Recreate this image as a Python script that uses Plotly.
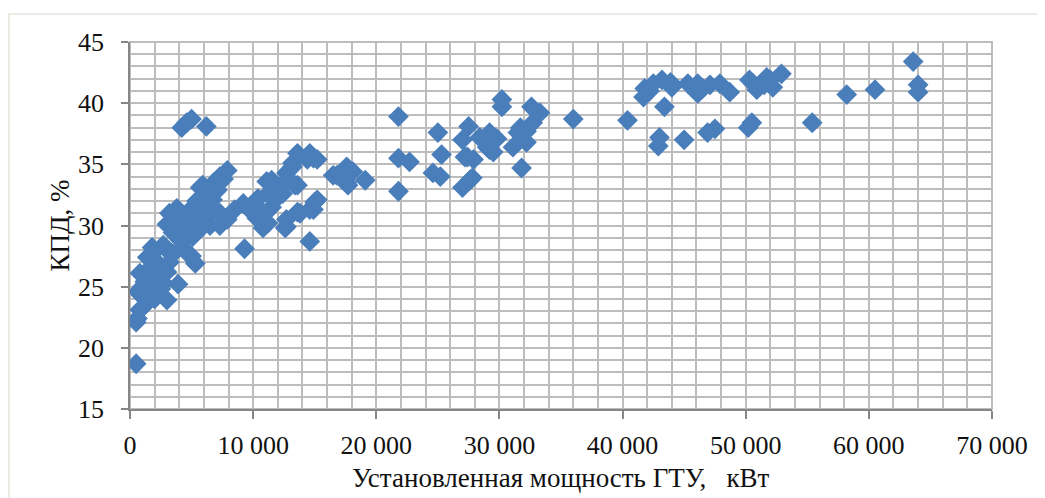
import plotly.graph_objects as go

# Installed capacity of gas turbine units, kW
power_kw = [
    500, 500, 600, 800, 1000, 1400, 650, 900, 1200, 1000, 800, 1100, 1500, 1600, 1900, 2300, 2000, 2500, 3000, 2700,
    3900, 1400, 1800, 2000, 2000, 2200, 2700, 3000, 2400, 1700, 3200, 3500, 2700, 3000, 4100, 4600, 4300, 5300, 5000,
    3200, 3500, 4100, 5100, 5900, 3000, 3200, 3800, 3500, 4600, 5100, 4200, 4000, 4800, 5500, 5700, 5700, 6300, 6700,
    6300, 5700, 5900, 6700, 7100, 7300, 7900, 7300, 7300, 7900, 6500, 6000, 5000, 4500, 6200, 6800, 7600, 5400, 4800,
    4200, 4600, 5000, 6200,
    9300, 8500, 9200, 10300, 10400, 10800, 10300, 10800, 11200, 11100, 11500, 11200, 11800, 12000, 12400, 12700, 12700,
    12600, 13600, 13800, 14600, 14900, 15000, 15200, 14600, 12700, 12700, 13200, 13200, 13400, 13600, 13600, 14600,
    14900, 15200, 14400, 9800, 10000, 11000, 11500,
    16500, 16800, 17300, 17600, 17600, 17700, 17600, 18100, 19100,
    21800, 21800, 22700, 21800, 25000, 25300, 24600, 25200, 27500, 27000, 27400, 27200, 27900, 28400, 29200, 29800,
    29000, 29500, 29200, 27800, 27000, 27600, 30200, 30200, 31700, 31100, 32200, 31800, 32600, 33300, 32700, 32200,
    31500, 36000, 40400,
    41800, 41700, 42200, 42500, 43200, 43900, 43400, 45300, 46100, 46100, 47100, 47900, 48700, 50300, 50900, 51700,
    52200, 52900, 51500, 43000, 42900, 45000, 46900, 47500, 50500, 50200, 55400, 58200, 60500, 63600, 64000, 64000,
    44000, 46500, 50600, 52000,
]

# Efficiency, %
efficiency = [
    18.7, 22.1, 22.4, 23.1, 23.3, 23.7, 24.6, 24.3, 25.4, 25.0, 26.1, 26.0, 25.6, 24.1, 25.0, 24.5, 24.0, 24.8, 23.9, 25.3,
    25.2, 27.4, 28.2, 27.9, 27.2, 26.8, 26.5, 26.2, 26.0, 26.5, 27.0, 27.7, 28.4, 28.0, 28.8, 27.8, 28.2, 26.9, 27.5,
    29.9, 29.4, 29.6, 29.1, 29.9, 30.1, 31.0, 31.4, 30.5, 30.5, 31.5, 30.8, 30.0, 29.5, 30.3, 29.9, 31.8, 30.7, 31.3,
    32.3, 33.1, 33.3, 32.1, 32.9, 34.0, 34.5, 31.0, 30.0, 30.5, 30.0, 31.0, 30.2, 29.0, 31.8, 33.5, 33.8, 32.0, 31.0,
    38.0, 38.4, 38.7, 38.1,
    28.1, 31.3, 31.8, 32.1, 32.2, 31.0, 30.6, 29.8, 30.2, 33.6, 33.7, 32.6, 32.1, 33.1, 32.6, 29.9, 30.5,
    29.8, 31.1, 31.0, 31.3, 31.3, 31.9, 32.1, 28.7, 33.7, 34.3, 34.8, 35.1, 33.3, 33.3, 35.9, 35.9,
    35.5, 35.4, 35.4, 31.5, 31.0, 31.0, 31.5,
    34.1, 34.1, 34.0, 34.8, 34.5, 33.3, 33.5, 34.4, 33.7,
    38.9, 35.5, 35.2, 32.8, 37.6, 35.8, 34.3, 34.0, 38.1, 37.0, 35.6, 35.6, 35.4, 37.2, 37.6, 37.1,
    36.4, 36.0, 36.2, 33.9, 33.1, 33.7, 40.3, 39.7, 38.0, 36.4, 36.8, 34.7, 39.7, 39.2, 38.4, 37.7,
    37.6, 38.7, 38.6,
    41.2, 40.5, 41.0, 41.6, 41.9, 41.7, 39.7, 41.6, 41.6, 40.8, 41.5, 41.6, 40.9, 41.9, 41.1, 42.1,
    41.3, 42.4, 41.5, 37.2, 36.5, 37.0, 37.6, 37.9, 38.4, 38.0, 38.4, 40.7, 41.1, 43.4, 41.5, 40.9,
    41.3, 41.2, 41.6, 41.9,
]

x_tick_vals = [0, 10000, 20000, 30000, 40000, 50000, 60000, 70000]
x_tick_text = ["0", "10 000", "20 000", "30 000", "40 000", "50 000", "60 000", "70 000"]
y_tick_vals = [15, 20, 25, 30, 35, 40, 45]
y_tick_text = ["15", "20", "25", "30", "35", "40", "45"]

x_title = "Установленная мощность ГТУ,   кВт"
y_title = "КПД, %"

FONT = "Liberation Serif, Times New Roman, serif"
FS_TICK = 26
FS_TITLE = 27
GRID = "#bdbdbd"
AXIS = "#868686"
TEXT = "#111111"

fig = go.Figure()
fig.add_trace(go.Scatter(
    x=power_kw, y=efficiency, mode="markers",
    marker=dict(symbol="diamond", size=16, color="#4a7ebb", line=dict(width=0)),
    showlegend=False,
))

# page body has an 8px margin, so the figure is drawn 8px smaller / offset
fig.update_layout(
    width=1037, height=490,
    margin=dict(l=122, r=53, t=34, b=89),
    paper_bgcolor="white", plot_bgcolor="white",
    font=dict(family=FONT, size=FS_TICK, color=TEXT),
    showlegend=False,
)

fig.update_xaxes(
    range=[0, 70000], tickvals=x_tick_vals, ticktext=x_tick_text,
    showgrid=True, gridcolor=GRID, gridwidth=2,
    minor=dict(dtick=2000, tick0=0, showgrid=True, gridcolor=GRID, gridwidth=2),
    showline=True, linecolor=AXIS, linewidth=1.5, mirror=False,
    ticks="outside", ticklen=8, tickcolor=AXIS, tickwidth=1.5,
    ticklabelstandoff=4, zeroline=False,
    tickfont=dict(family=FONT, size=FS_TICK, color=TEXT),
)
fig.update_yaxes(
    range=[15, 45], tickvals=y_tick_vals, ticktext=y_tick_text,
    showgrid=True, gridcolor=GRID, gridwidth=2,
    minor=dict(dtick=1, tick0=15, showgrid=True, gridcolor=GRID, gridwidth=2),
    showline=True, linecolor=AXIS, linewidth=1.5, mirror=False,
    ticks="outside", ticklen=7, tickcolor=AXIS, tickwidth=1.5,
    ticklabelstandoff=12, zeroline=False,
    tickfont=dict(family=FONT, size=FS_TICK, color=TEXT),
)

# grid frame on the right/top edges
fig.add_shape(type="rect", xref="paper", yref="paper", x0=0, y0=0, x1=1, y1=1,
              line=dict(color=GRID, width=2), layer="below")

# outer chart border (top and left edges visible)
fig.add_shape(type="rect", xref="paper", yref="paper",
              x0=-0.1404, y0=-0.3, x1=1.1, y1=1.0763,
              line=dict(color="#e6e4dc", width=1.5))

fig.add_annotation(text=x_title, xref="paper", yref="paper", x=0.5, y=0,
                   xanchor="center", yanchor="middle", yshift=-69, showarrow=False,
                   font=dict(family=FONT, size=FS_TITLE, color=TEXT))
fig.add_annotation(text=y_title, xref="paper", yref="paper", x=0, y=0.5,
                   xanchor="center", yanchor="middle", xshift=-71, textangle=-90,
                   showarrow=False, font=dict(family=FONT, size=FS_TITLE, color=TEXT))

fig.write_html("out.html")
